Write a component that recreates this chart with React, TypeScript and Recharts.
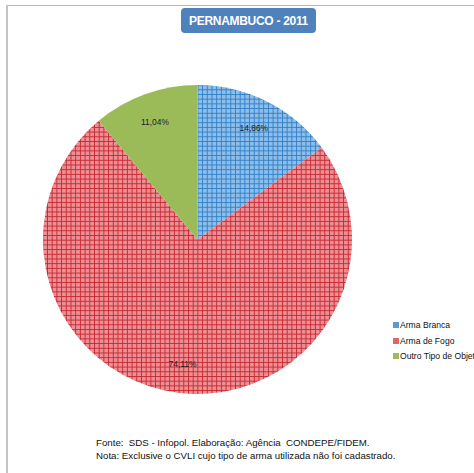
import React from "react";
import { PieChart, Pie, Cell } from "recharts";

const categories = ["Arma Branca", "Arma de Fogo", "Outro Tipo de Objeto"];
const values = [14.86, 74.11, 11.04];
const valueLabels = ["14,86%", "74,11%", "11,04%"];
const fills = ["url(#patBlue)", "url(#patRed)", "#9bbb59"];
const legendColors = ["#5b9bd5", "#e06666", "#9bbb59"];
const title = "PERNAMBUCO - 2011";
const footer = [
  "Fonte:  SDS - Infopol. Elaboração: Agência  CONDEPE/FIDEM.",
  "Nota: Exclusive o CVLI cujo tipo de arma utilizada não foi cadastrado.",
];

const data = categories.map((name, i) => ({ name, value: values[i], label: valueLabels[i] }));

const RAD = Math.PI / 180;
const renderLabel = (props: any) => {
  const { cx, cy, midAngle, outerRadius, index } = props;
  const r = outerRadius * 0.81;
  const x = cx + r * Math.cos(-midAngle * RAD);
  const y = cy + r * Math.sin(-midAngle * RAD);
  return (
    <text x={x} y={y} textAnchor="middle" dominantBaseline="central" fontSize={8.4} fill="#222" fontFamily="Liberation Sans, Arial, sans-serif">
      {data[index].label}
    </text>
  );
};

export default function App() {
  const font = "Liberation Sans, Arial, sans-serif";
  return (
    <div style={{ position: "absolute", left: 0, top: 0, width: 474, height: 473, background: "#fff", fontFamily: font, overflow: "hidden" }}>
      <svg width={0} height={0} style={{ position: "absolute" }}>
        <defs>
          <pattern id="patBlue" patternUnits="userSpaceOnUse" width={4.7} height={4.7}>
            <rect width={4.7} height={4.7} fill="#8dbde8" />
            <rect width={4.7} height={0.9} fill="#2f7fc8" />
            <rect width={0.9} height={4.7} fill="#2f7fc8" />
          </pattern>
          <pattern id="patRed" patternUnits="userSpaceOnUse" width={4.7} height={4.7}>
            <rect width={4.7} height={4.7} fill="#eb8f95" />
            <rect width={4.7} height={0.9} fill="#c8262e" />
            <rect width={0.9} height={4.7} fill="#c8262e" />
          </pattern>
        </defs>
      </svg>
      <div style={{ position: "absolute", left: 6, top: 5, width: 468, height: 1, background: "#b8b8b8" }} />
      <div style={{ position: "absolute", left: 6, top: 5, width: 1.5, height: 468, background: "#c4c4c4" }} />
      <div style={{ position: "absolute", left: 181, top: 8, width: 135, height: 25, background: "#4f81bd", borderRadius: 4, color: "#fff", fontWeight: "bold", fontSize: 12, display: "flex", alignItems: "center", justifyContent: "center", letterSpacing: -0.3 }}>
        {title}
      </div>
      <div style={{ position: "absolute", left: 0, top: 0 }}>
        <PieChart width={474} height={473} margin={{ top: 0, right: 0, bottom: 0, left: 0 }}>
          <Pie
            data={data}
            dataKey="value"
            nameKey="name"
            cx={197.5}
            cy={239.5}
            outerRadius={154.5}
            startAngle={90}
            endAngle={-270}
            stroke="none"
            isAnimationActive={false}
            label={renderLabel}
            labelLine={false}
          >
            {data.map((d, i) => (
              <Cell key={d.name} fill={fills[i]} />
            ))}
          </Pie>
        </PieChart>
      </div>
      {categories.map((c, i) => (
        <div key={c} style={{ position: "absolute", left: 393, top: 320 + i * 15.5, display: "flex", alignItems: "center", fontSize: 8.6, color: "#111", whiteSpace: "nowrap" }}>
          <span style={{ display: "inline-block", width: 6, height: 6, background: legendColors[i], marginRight: 1 }} />
          {c}
        </div>
      ))}
      <div style={{ position: "absolute", left: 96, top: 436, fontSize: 9.7, color: "#111", lineHeight: "13px", whiteSpace: "pre" }}>
        <div>{footer[0]}</div>
        <div>{footer[1]}</div>
      </div>
    </div>
  );
}
